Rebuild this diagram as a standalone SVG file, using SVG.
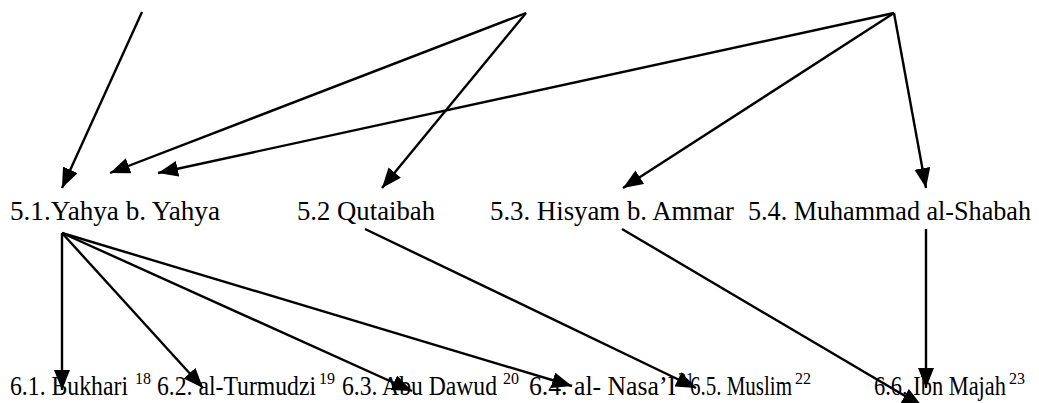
<svg xmlns="http://www.w3.org/2000/svg" width="1039" height="403" viewBox="0 0 1039 403">
<style>
  .lbl { font-family: "Liberation Serif", "Times New Roman", serif; font-size: 27px; fill: #000; }
  .sup { font-size: 16px; }
  .edge { stroke: #000; stroke-width: 2.4; fill: none; marker-end: url(#ah); }
</style>
<defs>
  <marker id="ah" markerUnits="userSpaceOnUse" markerWidth="22" markerHeight="18" refX="20" refY="8" orient="auto">
    <path d="M0,0 L20,8 L0,16 z" fill="#000"/>
  </marker>
</defs>
<rect width="1039" height="403" fill="#fff"/>
<g id="connectors">
  <line class="edge" x1="142" y1="12" x2="62" y2="188"/>
  <line class="edge" x1="526" y1="13" x2="110" y2="173"/>
  <line class="edge" x1="526" y1="13" x2="382" y2="188"/>
  <line class="edge" x1="894" y1="13" x2="158" y2="173"/>
  <line class="edge" x1="894" y1="13" x2="623" y2="188"/>
  <line class="edge" x1="894" y1="13" x2="926" y2="188"/>
  <line class="edge" x1="62" y1="233" x2="62" y2="390"/>
  <line class="edge" x1="62" y1="233" x2="203" y2="388"/>
  <line class="edge" x1="62" y1="233" x2="412" y2="391"/>
  <line class="edge" x1="62" y1="233" x2="572" y2="386"/>
  <line class="edge" x1="365" y1="229" x2="696" y2="388"/>
  <line class="edge" x1="622" y1="229" x2="922" y2="406"/>
  <line class="edge" x1="926" y1="229" x2="926" y2="388"/>
</g>
<g id="n51"><text class="lbl" x="10" y="220" textLength="210" lengthAdjust="spacingAndGlyphs">5.1.Yahya b. Yahya</text></g>
<g id="n52"><text class="lbl" x="297" y="220" textLength="138" lengthAdjust="spacingAndGlyphs">5.2 Qutaibah</text></g>
<g id="n53"><text class="lbl" x="490" y="220" textLength="244" lengthAdjust="spacingAndGlyphs">5.3. Hisyam b. Ammar</text></g>
<g id="n54"><text class="lbl" x="748" y="220" textLength="283" lengthAdjust="spacingAndGlyphs">5.4. Muhammad al-Shabah</text></g>
<g id="n61"><text class="lbl" x="10" y="395" textLength="118" lengthAdjust="spacingAndGlyphs">6.1. Bukhari</text><text class="lbl sup" x="135" y="384">18</text></g>
<g id="n62"><text class="lbl" x="157" y="395" textLength="159" lengthAdjust="spacingAndGlyphs">6.2. al-Turmudzi</text><text class="lbl sup" x="319" y="384">19</text></g>
<g id="n63"><text class="lbl" x="342" y="395" textLength="155" lengthAdjust="spacingAndGlyphs">6.3. Abu Dawud</text><text class="lbl sup" x="503" y="384">20</text></g>
<g id="n64"><text class="lbl" x="529" y="395" textLength="147" lengthAdjust="spacingAndGlyphs">6.4. al- Nasa’I</text><text class="lbl sup" x="678" y="384">21</text></g>
<g id="n65"><text class="lbl" x="690" y="395" textLength="102" lengthAdjust="spacingAndGlyphs">6.5. Muslim</text><text class="lbl sup" x="795" y="384">22</text></g>
<g id="n66"><text class="lbl" x="874" y="395" textLength="132" lengthAdjust="spacingAndGlyphs">6.6. Ibn Majah</text><text class="lbl sup" x="1009" y="384">23</text></g>
</svg>
